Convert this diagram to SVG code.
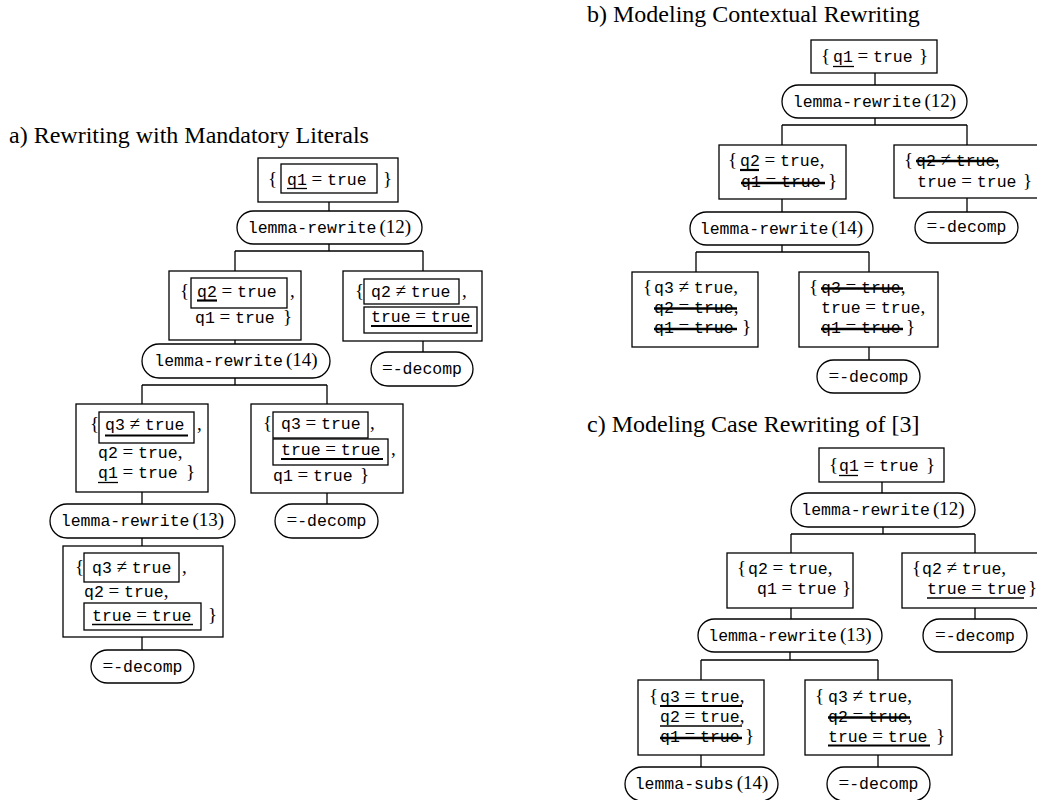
<svg xmlns="http://www.w3.org/2000/svg" width="1037" height="800" viewBox="0 0 1037 800">
<style>
.bx{fill:#fff;stroke:#000;stroke-width:1.3}
.in{fill:none;stroke:#000;stroke-width:1.3}
.ed{fill:none;stroke:#000;stroke-width:1.3}
.m{font-family:"Liberation Mono","DejaVu Sans Mono",monospace;font-size:16.5px;fill:#000}
.s{font-family:"Liberation Serif","DejaVu Serif",serif;font-size:19px}
.t{font-family:"Liberation Serif","DejaVu Serif",serif;font-size:24px;fill:#000}
.ul{stroke:#000;stroke-width:1.3}
.ub{stroke:#000;stroke-width:2.2}
.st{stroke:#000;stroke-width:2.5}
</style>
<rect width="1037" height="800" fill="#fff"/>
<text class="t" x="9" y="143">a) Rewriting with Mandatory Literals</text>
<text class="t" x="587" y="22">b) Modeling Contextual Rewriting</text>
<text class="t" x="587" y="432">c) Modeling Case Rewriting of [3]</text>

<g id="connectors">
<path class="ed" d="M329 202V211 M329 244V251 M235 251H423 M235 251V271 M423 251V271 M423 341V352 M235 340V344 M235 378V385 M142 385H327 M142 385V404 M327 385V404 M327 493V504 M142 492V504 M142 538V546 M142 637V650"/>
<path class="ed" d="M875 73V85 M875 118V125 M782 125H967 M782 125V145 M967 125V145 M967 198V212 M782 199V212 M782 245V252 M696 252H869 M696 252V272 M869 252V272 M869 347V360"/>
<path class="ed" d="M882 482V493 M883 527V534 M791 534H975 M791 534V553 M975 534V553 M975 608V619 M791 608V619 M790 652V660 M701 660H878 M701 660V680 M878 660V680 M701 755V767 M878 755V767"/>
</g>

<!-- a) -->
<g id="a_n1">
<rect class="bx" x="258" y="158" width="140" height="44"/>
<rect class="in" x="281" y="164" width="96" height="29"/>
<text class="m" y="185"><tspan class="s" x="268">{</tspan><tspan x="287">q1</tspan><tspan class="s"> = </tspan>true<tspan class="s" x="383">}</tspan></text>
<line class="ul" x1="287" y1="188.5" x2="307" y2="188.5"/>
</g>
<g id="a_p1">
<rect class="bx" x="237" y="211" width="185" height="33" rx="16.5"/>
<text class="m" x="329.5" y="233" text-anchor="middle">lemma-rewrite<tspan class="s" dx="3">(12)</tspan></text>
</g>
<g id="a_n2">
<rect class="bx" x="169" y="271" width="132" height="69"/>
<rect class="in" x="191" y="278" width="96" height="30"/>
<text class="m" y="297"><tspan class="s" x="180">{</tspan><tspan x="197">q2</tspan><tspan class="s"> = </tspan>true<tspan class="s" x="290">,</tspan></text>
<line class="ub" x1="197" y1="300.5" x2="217" y2="300.5"/>
<text class="m" y="323"><tspan x="195">q1</tspan><tspan class="s"> = </tspan>true<tspan class="s" x="283">}</tspan></text>
</g>
<g id="a_n3">
<rect class="bx" x="343" y="271" width="139" height="70"/>
<rect class="in" x="364" y="279" width="95" height="25"/>
<rect class="in" x="364" y="307" width="113" height="26"/>
<text class="m" y="297"><tspan class="s" x="355">{</tspan><tspan x="371">q2</tspan><tspan class="s"> ≠ </tspan>true<tspan class="s" x="462">,</tspan></text>
<text class="m" y="322"><tspan x="371">true</tspan><tspan class="s"> = </tspan>true</text>
<line class="ub" x1="371" y1="326" x2="472" y2="326"/>
</g>
<g id="a_p2">
<rect class="bx" x="371" y="352" width="102" height="34" rx="17"/>
<text class="m" x="422" y="374" text-anchor="middle"><tspan class="s">=</tspan>-decomp</text>
</g>
<g id="a_p3">
<rect class="bx" x="142" y="344" width="188" height="34" rx="17"/>
<text class="m" x="236" y="366" text-anchor="middle">lemma-rewrite<tspan class="s" dx="3">(14)</tspan></text>
</g>
<g id="a_n4">
<rect class="bx" x="76" y="404" width="132" height="88"/>
<rect class="in" x="99" y="412" width="95" height="31"/>
<text class="m" y="430"><tspan class="s" x="90">{</tspan><tspan x="105">q3</tspan><tspan class="s"> ≠ </tspan>true<tspan class="s" x="197">,</tspan></text>
<line class="ub" x1="105" y1="435.5" x2="188" y2="435.5"/>
<text class="m" y="458"><tspan x="98">q2</tspan><tspan class="s"> = </tspan>true<tspan class="s">,</tspan></text>
<text class="m" y="478"><tspan x="98">q1</tspan><tspan class="s"> = </tspan>true<tspan class="s" x="186">}</tspan></text>
<line class="ul" x1="98" y1="482.5" x2="118" y2="482.5"/>
</g>
<g id="a_n5">
<rect class="bx" x="251" y="404" width="152" height="89"/>
<rect class="in" x="273" y="412" width="95" height="26"/>
<rect class="in" x="273" y="439" width="115" height="26"/>
<text class="m" y="429"><tspan class="s" x="263">{</tspan><tspan x="281">q3</tspan><tspan class="s"> = </tspan>true<tspan class="s" x="370">,</tspan></text>
<text class="m" y="455"><tspan x="281">true</tspan><tspan class="s"> = </tspan>true<tspan class="s" x="391">,</tspan></text>
<line class="ub" x1="281" y1="459" x2="383" y2="459"/>
<text class="m" y="481"><tspan x="273">q1</tspan><tspan class="s"> = </tspan>true<tspan class="s" x="360">}</tspan></text>
</g>
<g id="a_p4">
<rect class="bx" x="275" y="504" width="103" height="34" rx="17"/>
<text class="m" x="326.5" y="526" text-anchor="middle"><tspan class="s">=</tspan>-decomp</text>
</g>
<g id="a_p5">
<rect class="bx" x="50" y="504" width="185" height="34" rx="17"/>
<text class="m" x="142.5" y="526" text-anchor="middle">lemma-rewrite<tspan class="s" dx="3">(13)</tspan></text>
</g>
<g id="a_n6">
<rect class="bx" x="63" y="546" width="160" height="91"/>
<rect class="in" x="84" y="553" width="95" height="29"/>
<rect class="in" x="84" y="603" width="117" height="27"/>
<text class="m" y="573"><tspan class="s" x="75">{</tspan><tspan x="92">q3</tspan><tspan class="s"> ≠ </tspan>true<tspan class="s" x="182">,</tspan></text>
<text class="m" y="597"><tspan x="84">q2</tspan><tspan class="s"> = </tspan>true<tspan class="s">,</tspan></text>
<text class="m" y="621"><tspan x="92">true</tspan><tspan class="s"> = </tspan>true<tspan class="s" x="208">}</tspan></text>
<line class="ul" x1="92" y1="624.5" x2="193" y2="624.5"/>
</g>
<g id="a_p6">
<rect class="bx" x="91" y="650" width="103" height="33" rx="16.5"/>
<text class="m" x="142.5" y="672" text-anchor="middle"><tspan class="s">=</tspan>-decomp</text>
</g>

<!-- b) -->
<g id="b_n1">
<rect class="bx" x="811" y="40" width="126" height="33"/>
<text class="m" y="62"><tspan class="s" x="821">{</tspan><tspan x="833">q1</tspan><tspan class="s"> = </tspan>true<tspan class="s" x="919">}</tspan></text>
<line class="ul" x1="833" y1="66.5" x2="854" y2="66.5"/>
</g>
<g id="b_p1">
<rect class="bx" x="782" y="85" width="185" height="33" rx="16.5"/>
<text class="m" x="874.5" y="107" text-anchor="middle">lemma-rewrite<tspan class="s" dx="3">(12)</tspan></text>
</g>
<g id="b_n2">
<rect class="bx" x="719" y="145" width="127" height="54"/>
<text class="m" y="166"><tspan class="s" x="728">{</tspan><tspan x="740">q2</tspan><tspan class="s"> = </tspan>true<tspan class="s">,</tspan></text>
<line class="ub" x1="740" y1="170" x2="759" y2="170"/>
<text class="m" y="187"><tspan x="741">q1</tspan><tspan class="s"> = </tspan>true<tspan class="s" x="828">}</tspan></text>
<line class="st" x1="741" y1="183" x2="825" y2="183"/>
</g>
<g id="b_n3">
<rect class="bx" x="894" y="145" width="150" height="53"/>
<text class="m" y="166"><tspan class="s" x="904">{</tspan><tspan x="916">q2</tspan><tspan class="s"> ≠ </tspan>true<tspan class="s">,</tspan></text>
<line class="st" x1="916" y1="161" x2="998" y2="161"/>
<text class="m" y="187"><tspan x="917">true</tspan><tspan class="s"> = </tspan>true<tspan class="s" x="1023">}</tspan></text>
</g>
<g id="b_p2">
<rect class="bx" x="915" y="212" width="103" height="31" rx="15.5"/>
<text class="m" x="966.5" y="232" text-anchor="middle"><tspan class="s">=</tspan>-decomp</text>
</g>
<g id="b_p3">
<rect class="bx" x="690" y="212" width="183" height="33" rx="16.5"/>
<text class="m" x="781.5" y="234" text-anchor="middle">lemma-rewrite<tspan class="s" dx="3">(14)</tspan></text>
</g>
<g id="b_n4">
<rect class="bx" x="632" y="272" width="126" height="75"/>
<text class="m" y="293"><tspan class="s" x="643">{</tspan><tspan x="654">q3</tspan><tspan class="s"> ≠ </tspan>true<tspan class="s">,</tspan></text>
<text class="m" y="313"><tspan x="654">q2</tspan><tspan class="s"> = </tspan>true<tspan class="s">,</tspan></text>
<line class="st" x1="654" y1="308.5" x2="737" y2="308.5"/>
<text class="m" y="333"><tspan x="654">q1</tspan><tspan class="s"> = </tspan>true<tspan class="s" x="742">}</tspan></text>
<line class="st" x1="654" y1="329" x2="737" y2="329"/>
</g>
<g id="b_n5">
<rect class="bx" x="799" y="272" width="139" height="75"/>
<text class="m" y="293"><tspan class="s" x="809">{</tspan><tspan x="821">q3</tspan><tspan class="s"> = </tspan>true<tspan class="s">,</tspan></text>
<line class="st" x1="821" y1="288.5" x2="903" y2="288.5"/>
<text class="m" y="313"><tspan x="821">true</tspan><tspan class="s"> = </tspan>true<tspan class="s">,</tspan></text>
<text class="m" y="333"><tspan x="821">q1</tspan><tspan class="s"> = </tspan>true<tspan class="s" x="906">}</tspan></text>
<line class="st" x1="821" y1="329" x2="903" y2="329"/>
</g>
<g id="b_p4">
<rect class="bx" x="817" y="360" width="103" height="33" rx="16.5"/>
<text class="m" x="868.5" y="382" text-anchor="middle"><tspan class="s">=</tspan>-decomp</text>
</g>

<!-- c) -->
<g id="c_n1">
<rect class="bx" x="819" y="448" width="125" height="34"/>
<text class="m" y="471"><tspan class="s" x="829">{</tspan><tspan x="839">q1</tspan><tspan class="s"> = </tspan>true<tspan class="s" x="926">}</tspan></text>
<line class="ul" x1="839" y1="475.5" x2="858" y2="475.5"/>
</g>
<g id="c_p1">
<rect class="bx" x="791" y="493" width="184" height="34" rx="17"/>
<text class="m" x="883" y="515" text-anchor="middle">lemma-rewrite<tspan class="s" dx="3">(12)</tspan></text>
</g>
<g id="c_n2">
<rect class="bx" x="727" y="553" width="126" height="55"/>
<text class="m" y="574"><tspan class="s" x="737">{</tspan><tspan x="748">q2</tspan><tspan class="s"> = </tspan>true<tspan class="s">,</tspan></text>
<text class="m" y="594"><tspan x="757">q1</tspan><tspan class="s"> = </tspan>true<tspan class="s" x="842">}</tspan></text>
</g>
<g id="c_n3">
<rect class="bx" x="902" y="553" width="150" height="55"/>
<text class="m" y="574"><tspan class="s" x="912">{</tspan><tspan x="922">q2</tspan><tspan class="s"> ≠ </tspan>true<tspan class="s">,</tspan></text>
<text class="m" y="594"><tspan x="927">true</tspan><tspan class="s"> = </tspan>true<tspan class="s" x="1028">}</tspan></text>
<line class="ul" x1="927" y1="598" x2="1024" y2="598"/>
</g>
<g id="c_p2">
<rect class="bx" x="923" y="619" width="104" height="33" rx="16.5"/>
<text class="m" x="975" y="641" text-anchor="middle"><tspan class="s">=</tspan>-decomp</text>
</g>
<g id="c_p3">
<rect class="bx" x="698" y="619" width="184" height="33" rx="16.5"/>
<text class="m" x="790" y="641" text-anchor="middle">lemma-rewrite<tspan class="s" dx="3">(13)</tspan></text>
</g>
<g id="c_n4">
<rect class="bx" x="638" y="680" width="126" height="75"/>
<text class="m" y="702"><tspan class="s" x="649">{</tspan><tspan x="660">q3</tspan><tspan class="s"> = </tspan>true<tspan class="s">,</tspan></text>
<line class="ub" x1="660" y1="706" x2="742" y2="706"/>
<text class="m" y="722"><tspan x="660">q2</tspan><tspan class="s"> = </tspan>true<tspan class="s">,</tspan></text>
<line class="ul" x1="660" y1="726" x2="742" y2="726"/>
<text class="m" y="742"><tspan x="660">q1</tspan><tspan class="s"> = </tspan>true<tspan class="s" x="745">}</tspan></text>
<line class="st" x1="660" y1="738" x2="742" y2="738"/>
</g>
<g id="c_n5">
<rect class="bx" x="805" y="680" width="147" height="75"/>
<text class="m" y="702"><tspan class="s" x="815">{</tspan><tspan x="828">q3</tspan><tspan class="s"> ≠ </tspan>true<tspan class="s">,</tspan></text>
<text class="m" y="722"><tspan x="828">q2</tspan><tspan class="s"> = </tspan>true<tspan class="s">,</tspan></text>
<line class="st" x1="828" y1="717.5" x2="910" y2="717.5"/>
<text class="m" y="742"><tspan x="828">true</tspan><tspan class="s"> = </tspan>true<tspan class="s" x="936">}</tspan></text>
<line class="ub" x1="828" y1="745.5" x2="930" y2="745.5"/>
</g>
<g id="c_p4">
<rect class="bx" x="625" y="767" width="153" height="34" rx="17"/>
<text class="m" x="701.5" y="789" text-anchor="middle">lemma-subs<tspan class="s" dx="3">(14)</tspan></text>
</g>
<g id="c_p5">
<rect class="bx" x="827" y="767" width="103" height="34" rx="17"/>
<text class="m" x="878.5" y="789" text-anchor="middle"><tspan class="s">=</tspan>-decomp</text>
</g>
</svg>
